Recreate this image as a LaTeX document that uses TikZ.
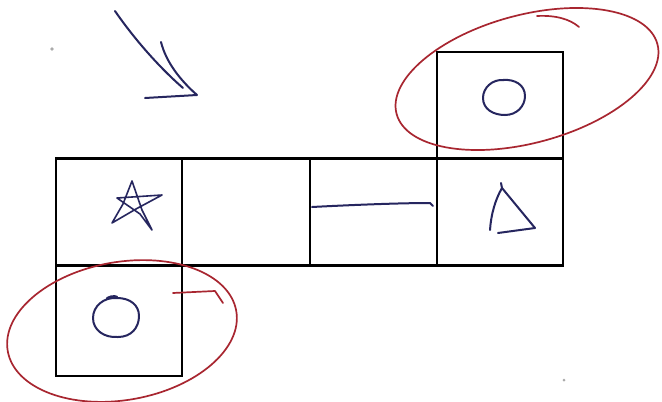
\documentclass[tikz,border=0pt]{standalone}
\usetikzlibrary{shapes.geometric}
\definecolor{ink}{RGB}{38,38,95}
\definecolor{pen}{RGB}{168,38,48}
\definecolor{speck}{RGB}{170,170,170}
\tikzset{
  cell/.style={draw=black, line width=2.4pt, rectangle, inner sep=0pt, minimum width=126pt, minimum height=107pt},
  inkline/.style={draw=ink, line width=2pt, line cap=round, line join=round},
  redline/.style={draw=pen, line width=1.7pt, line cap=round, line join=round}
}
\begin{document}
\begin{tikzpicture}[x=1pt,y=-1pt]
\useasboundingbox (0,0) rectangle (662,402);
\fill[white] (0,0) rectangle (662,402);
% cells of the net
\node[cell] (c1) at (119,212) {};
\node[cell, minimum width=128pt] (c2) at (246,212) {};
\node[cell, minimum width=127pt] (c3) at (373.5,212) {};
\node[cell] (c4) at (500,212) {};
\node[cell] (top) at (500,105.5) {};
\node[cell, minimum height=111pt] (bot) at (119,320.5) {};
% arrow
\draw[inkline] (115,11) .. controls (135,40) and (160,68) .. (183,88);
\draw[inkline] (161,42) .. controls (166,62) and (180,80) .. (197,95) -- (145,98);
% star
\draw[inkline, line width=1.6pt] (112,223) -- (123,204) -- (132,181) -- (142,210) -- (152,230) -- (140,214) -- (117,198) -- (162,195) -- (136,209) -- cycle;
% line in third cell
\draw[inkline] (312,207) .. controls (350,205) and (400,203) .. (430,203) -- (433,206);
% triangle
\draw[inkline] (501,183) -- (502,188) .. controls (495,200) and (491,215) .. (490,230);
\draw[inkline] (498,233) -- (535,228) -- (502,188);
% circles
\draw[inkline] (504,80) .. controls (492,79) and (483,88) .. (483,98) .. controls (483,109) and (493,115) .. (505,115) .. controls (517,115) and (525,106) .. (525,96) .. controls (525,85) and (515,79) .. (503,80);
\draw[inkline] (107,298) .. controls (112,295) and (119,296) .. (117,298) .. controls (104,297) and (93,306) .. (93,318) .. controls (93,330) and (104,338) .. (118,337) .. controls (131,337) and (139,328) .. (139,316) .. controls (139,305) and (130,298) .. (117,298);
% red ellipses
\draw[redline] (527,79) ellipse [x radius=135, y radius=64, rotate=15];
\draw[redline] (537,16) .. controls (555,15) and (570,19) .. (579,27);
\draw[redline] (122,331) ellipse [x radius=116, y radius=69, rotate=10];
\draw[redline] (173,293) -- (215,291) -- (223,303);
% specks
\fill[speck] (52,49) circle (1.8);
\fill[speck] (564,380) circle (1.5);
\end{tikzpicture}
\end{document}
